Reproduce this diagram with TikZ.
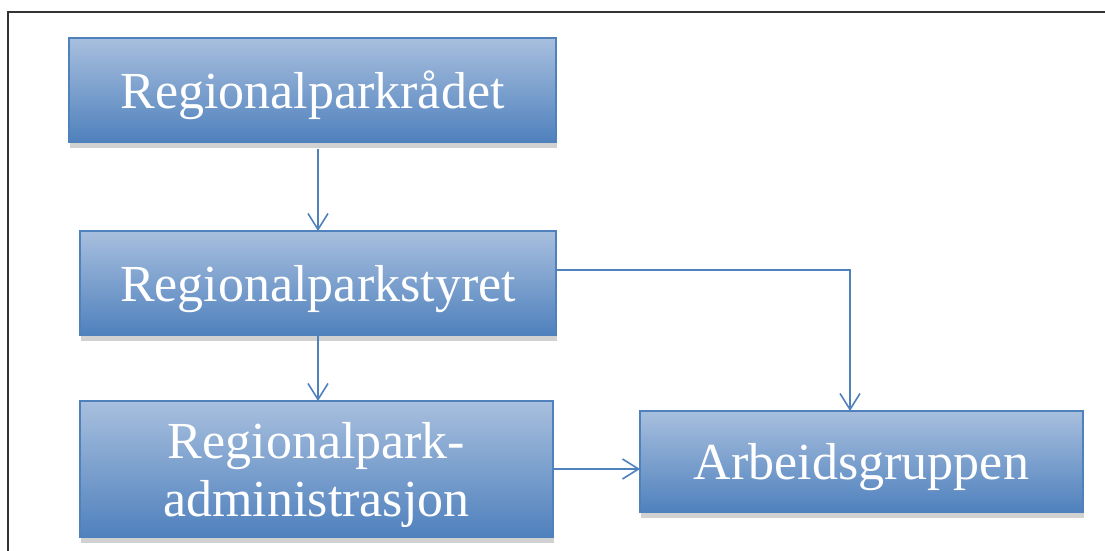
\documentclass[tikz,border=0pt]{standalone}
\usepackage{fontspec}
\setmainfont{Liberation Serif}
\usepackage{tikz}
\usetikzlibrary{arrows.meta,shadows}
\definecolor{rpedge}{RGB}{79,129,189}
\definecolor{rptop}{RGB}{168,191,222}
\definecolor{rpmid}{RGB}{144,172,211}
\definecolor{rpbot}{RGB}{79,129,189}
\tikzstyle{rpbox} = [rectangle, draw=rpedge, line width=0.6pt, inner sep=0pt, outer sep=0pt,
  top color=rptop, middle color=rpmid, bottom color=rpbot, text=white,
  font=\fontsize{26}{29}\selectfont, align=center, text depth=0pt,
  drop shadow={shadow xshift=0.5pt, shadow yshift=-3pt, fill=black!18, opacity=1}]
\tikzstyle{arrow} = [line width=0.8pt, -{Straight Barb[length=8pt,width=10pt]}, color=rpedge]

\begin{document}
\begin{tikzpicture}[x=0.5pt,y=-0.5pt]
\useasboundingbox (0,0) rectangle (1105,551);
% Frame
\draw[line width=1pt, black!80] (8,600) -- (8,12) -- (1150,12);

% Boxes
\node[rpbox, minimum width=243.5pt, minimum height=52pt] (raadet) at (312.5,90) {Regionalparkrådet};
\node[rpbox, minimum width=238pt, minimum height=52pt] (styret) at (318,283) {Regionalparkstyret};
\node[rpbox, minimum width=236.5pt, minimum height=68pt] (admin) at (316.5,469) {Regionalpark-\\administrasjon};
\node[rpbox, minimum width=221.5pt, minimum height=50.5pt] (gruppen) at (861.5,461.5) {Arbeidsgruppen};

% Arrows
\coordinate (bend) at (850,270);
\draw[arrow] ([yshift=-3.5pt]raadet.south -| styret.north) -- (styret.north);
\draw[arrow] (styret.south) -- (admin.north -| styret.south);
\draw[arrow] (styret.east |- bend) -- (bend) -- (bend |- gruppen.north);
\draw[arrow] (admin.east) -- (admin.east -| gruppen.west);
\end{tikzpicture}
\end{document}
